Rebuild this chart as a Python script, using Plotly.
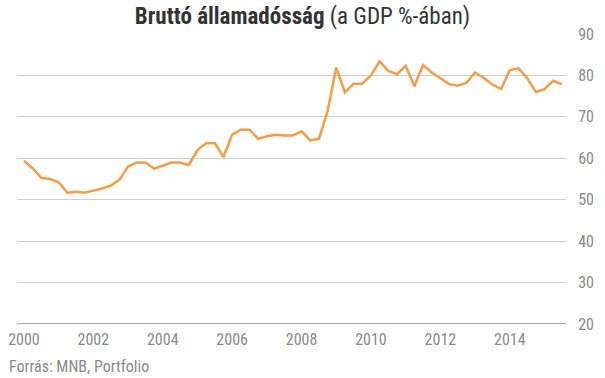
import plotly.graph_objects as go

years_start = 2000
debt = [59.4, 57.6, 55.3, 55.0, 54.2, 51.7, 51.9, 51.7, 52.2, 52.7, 53.4, 54.8,
        58.0, 59.0, 59.0, 57.5, 58.2, 59.0, 59.0, 58.4, 62.0, 63.6, 63.6, 60.3,
        65.7, 66.9, 66.9, 64.7, 65.3, 65.7, 65.5, 65.5, 66.5, 64.3, 64.7, 71.4,
        81.9, 75.9, 78.0, 78.0, 80.0, 83.4, 81.1, 80.3, 82.3, 77.4, 82.5, 80.7,
        79.3, 77.9, 77.5, 78.2, 80.7, 79.4, 77.8, 76.7, 81.3, 81.7, 79.4, 76.0,
        76.7, 78.7, 77.9]
quarters = [years_start + i / 4 for i in range(len(debt))]
x_ticks = [2000, 2002, 2004, 2006, 2008, 2010, 2012, 2014]
y_ticks = [20, 30, 40, 50, 60, 70, 80, 90]

FONT = "Roboto Condensed, Liberation Sans Narrow, DejaVu Sans Condensed, Roboto, sans-serif"
GRAY = "#8a8a8a"

fig = go.Figure()
fig.add_trace(go.Scatter(x=quarters, y=debt, mode="lines",
                         line=dict(color="#f89b45", width=2.5),
                         hoverinfo="x+y"))

fig.update_layout(
    width=605, height=378,
    margin=dict(l=17, r=39, t=34, b=54, autoexpand=False),
    paper_bgcolor="white", plot_bgcolor="white",
    showlegend=False,
    font=dict(family=FONT, color=GRAY),
    title=dict(text="<b>Bruttó államadósság</b> (a GDP %-ában)",
               x=0.5, xanchor="center", y=1 - 16 / 378, yanchor="middle",
               font=dict(family=FONT, size=23, color="#333333")),
    xaxis=dict(range=[1999.8, 2015.62], tickmode="array", tickvals=x_ticks,
               ticktext=[str(v) for v in x_ticks],
               showgrid=False, zeroline=False, showline=False,
               ticks="outside", ticklen=1, tickcolor="rgba(0,0,0,0)",
               tickfont=dict(size=16, color=GRAY, family=FONT)),
    yaxis=dict(range=[20, 90], side="right", tickmode="array", tickvals=y_ticks,
               showgrid=True, gridcolor="#d0d0d0", gridwidth=1,
               zeroline=False, showline=False,
               ticks="outside", ticklen=8, tickcolor="rgba(0,0,0,0)",
               tickfont=dict(size=16, color=GRAY, family=FONT)),
    shapes=[dict(type="line", xref="paper", yref="y", x0=0, x1=1, y0=20, y1=20,
                 line=dict(color="#8a8a8a", width=1.5))],
    annotations=[dict(text="Forrás: MNB, Portfolio", xref="paper", yref="paper",
                      x=-10 / 549, y=-42 / 290, xanchor="left", yanchor="middle",
                      showarrow=False, font=dict(size=16, color=GRAY, family=FONT))],
)

fig.write_html("out.html", config={"displayModeBar": False},
               post_script="document.body.style.margin='0';document.body.style.padding='0';")
